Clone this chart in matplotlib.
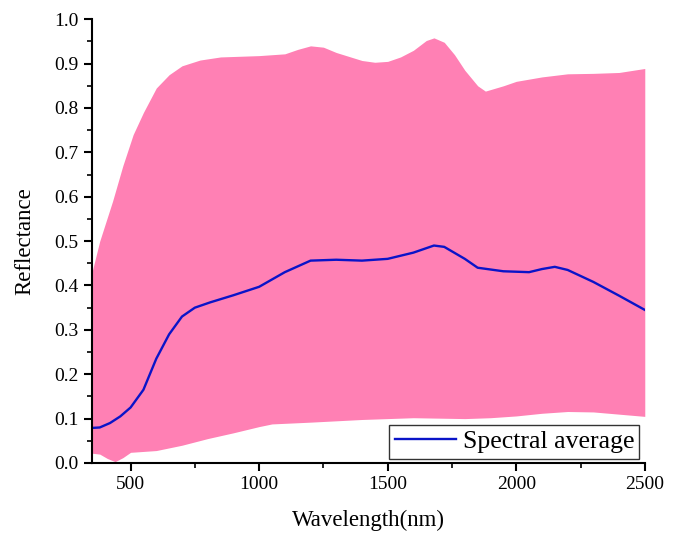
import matplotlib
matplotlib.use('Agg')
import matplotlib.pyplot as plt
import numpy as np
from matplotlib.ticker import MultipleLocator

plt.rcParams['font.family'] = ['Liberation Serif', 'DejaVu Serif']

# envelope (max / min) and mean reflectance spectrum
wl_upper = [350, 380, 430, 470, 510, 550, 600, 650, 700, 770, 850, 1000, 1100, 1150, 1200,
            1250, 1300, 1400, 1450, 1500, 1550, 1600, 1650, 1680, 1720, 1760, 1800, 1850,
            1880, 1950, 2000, 2100, 2200, 2300, 2400, 2500]
refl_upper = [0.43, 0.50, 0.59, 0.67, 0.74, 0.79, 0.845, 0.875, 0.895, 0.908, 0.915, 0.918,
              0.922, 0.932, 0.94, 0.937, 0.925, 0.907, 0.903, 0.905, 0.915, 0.93, 0.952,
              0.958, 0.948, 0.92, 0.885, 0.85, 0.838, 0.85, 0.86, 0.87, 0.877, 0.878, 0.88,
              0.889]

wl_lower = [350, 380, 410, 440, 470, 500, 600, 700, 800, 900, 1000, 1050, 1200, 1400, 1600,
            1800, 1900, 2000, 2100, 2200, 2300, 2400, 2500]
refl_lower = [0.022, 0.02, 0.01, 0.003, 0.012, 0.024, 0.028, 0.04, 0.055, 0.068, 0.082, 0.088,
              0.092, 0.098, 0.102, 0.1, 0.102, 0.106, 0.112, 0.116, 0.115, 0.11, 0.105]

wl_mean = [350, 380, 420, 460, 500, 550, 600, 650, 700, 750, 810, 900, 1000, 1100, 1200, 1300,
           1400, 1500, 1600, 1680, 1720, 1800, 1850, 1950, 2050, 2100, 2150, 2200, 2300, 2400,
           2500]
refl_mean = [0.079, 0.08, 0.09, 0.105, 0.125, 0.165, 0.235, 0.29, 0.33, 0.35, 0.362, 0.378,
             0.397, 0.43, 0.456, 0.458, 0.456, 0.46, 0.474, 0.49, 0.487, 0.46, 0.44, 0.432,
             0.43, 0.437, 0.442, 0.435, 0.408, 0.377, 0.345]

# common grid for the shaded band
grid = np.union1d(wl_upper, wl_lower)
up = np.interp(grid, wl_upper, refl_upper)
lo = np.interp(grid, wl_lower, refl_lower)

fig = plt.figure(figsize=(6.78, 5.34), dpi=100)
ax = fig.add_axes([0.1357, 0.133, 0.8153, 0.831])

ax.fill_between(grid, lo, up, color='#ff80b4', linewidth=0)
ax.plot(wl_mean, refl_mean, color='#0a14c8', lw=1.7, label='Spectral average')

ax.set_xlim(350, 2500)
ax.set_ylim(0, 1.0)
ax.xaxis.set_major_locator(MultipleLocator(500))
ax.xaxis.set_minor_locator(MultipleLocator(250))
ax.yaxis.set_major_locator(MultipleLocator(0.1))
ax.yaxis.set_minor_locator(MultipleLocator(0.05))
ax.yaxis.set_major_formatter(matplotlib.ticker.FormatStrFormatter('%.1f'))

for s in ['top', 'right']:
    ax.spines[s].set_visible(False)
for s in ['left', 'bottom']:
    ax.spines[s].set_linewidth(1.5)
ax.tick_params(which='major', length=6, width=1.5, labelsize=14, direction='out')
ax.tick_params(which='minor', length=3.5, width=1.2, direction='out')

ax.set_xlabel('Wavelength(nm)', fontsize=16.5, labelpad=12)
ax.set_ylabel('Reflectance', fontsize=16.5, labelpad=14)

leg = ax.legend(loc='lower right', fontsize=18.5, frameon=True, fancybox=False,
                borderpad=0.2, handlelength=2.4, handletextpad=0.25,
                bbox_to_anchor=(0.99, 0.01), borderaxespad=0.0)
leg.get_frame().set_edgecolor('#333333')
leg.get_frame().set_linewidth(1.0)
leg.get_frame().set_alpha(1.0)

fig.savefig('out.png', dpi=100)
